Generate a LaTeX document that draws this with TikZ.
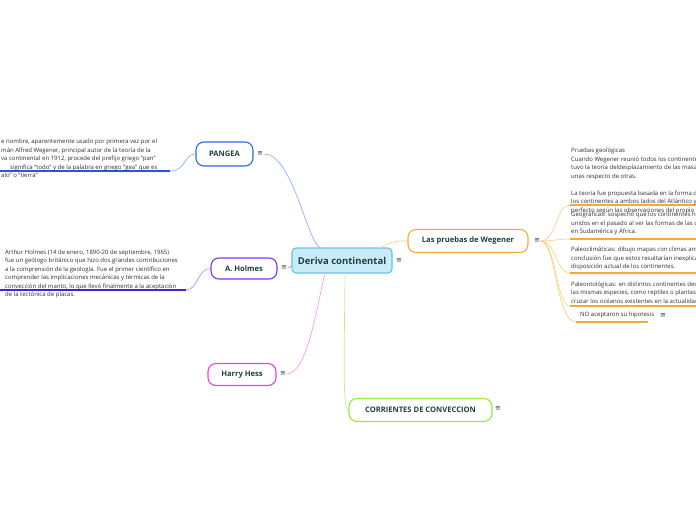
\documentclass[tikz,border=0pt]{standalone}
\usepackage{fontspec}
\setmainfont{Open Sans}
\newfontfamily\dejavu{DejaVu Sans}
\definecolor{txt}{HTML}{1C4240}
\definecolor{note}{HTML}{2E2E2E}
\definecolor{cfill}{HTML}{C8ECFB}
\definecolor{cborder}{HTML}{62C3EC}
\definecolor{cblue}{HTML}{2F66F5}
\definecolor{lblue}{HTML}{94ADFF}
\definecolor{dblue}{HTML}{2A52E8}
\definecolor{cpurple}{HTML}{7C35F2}
\definecolor{lpurple}{HTML}{B894FF}
\definecolor{dpurple}{HTML}{4B1FD6}
\definecolor{cmagenta}{HTML}{EE3DF2}
\definecolor{lpink}{HTML}{F49AF5}
\definecolor{cgreen}{HTML}{93EE3C}
\definecolor{lgreen}{HTML}{C0F28C}
\definecolor{corange}{HTML}{F8A838}
\definecolor{lorange}{HTML}{FFD08A}
\begin{document}
\begin{tikzpicture}[x=1pt,y=-1pt,
  topic/.style={draw, rounded corners=8pt, line width=1.1pt, fill=white, text=txt,
    font=\bfseries\fontsize{7.6}{9}\selectfont, inner sep=0pt},
  icon/.style={text=txt, font=\dejavu\fontsize{7}{7}\selectfont, inner sep=0.5pt},
  notetext/.style={text=note, align=left, inner sep=0pt, anchor=north west,
    font=\fontsize{6}{8.5}\selectfont},
  conn/.style={line width=0.7pt},
  uline/.style={line width=1.3pt}]
\useasboundingbox (0,0) rectangle (696,520);

% central
\node[draw=cborder, fill=cfill, rounded corners=4pt, line width=1.1pt, text=txt,
  font=\bfseries\fontsize{9.5}{11}\selectfont, minimum width=100pt, minimum height=25pt,
  inner sep=0pt] (central) at (342,260.5) {Deriva continental};
\node[icon] (ic0) at (399,261) {≡};

% topics
\node[topic, draw=cblue, minimum width=57pt, minimum height=24pt] (pangea) at (224.5,154) {PANGEA};
\node[icon] (ic1) at (260,154) {≡};
\node[topic, draw=cpurple, minimum width=66pt, minimum height=21pt] (holmes) at (244,268.5) {A. Holmes};
\node[icon] (ic2) at (284,268) {≡};
\node[topic, draw=cmagenta, minimum width=68pt, minimum height=22pt] (hess) at (242,374.5) {Harry Hess};
\node[icon] (ic3) at (283,374) {≡};
\node[topic, draw=cgreen, minimum width=143pt, minimum height=23pt] (corr) at (420.5,410) {CORRIENTES DE CONVECCION};
\node[icon] (ic4) at (498,409) {≡};
\node[topic, draw=corange, minimum width=120pt, minimum height=23pt] (weg) at (468,241) {Las pruebas de Wegener};
\node[icon] (ic5) at (537,241) {≡};

% connection points on central
\coordinate (c1) at (320,248);
\coordinate (c2) at (292,266);
\coordinate (c3) at (325,273);
\coordinate (c4) at (345,273);
\coordinate (c5) at (380,248);

\draw[conn, lblue] (ic1.east) .. controls (292,153) and (306,238) .. (c1);
\draw[conn, lpurple] (ic2.east) .. controls (290,268) and (290,266) .. (c2);
\draw[conn, lpink] (ic3.east) .. controls (308,374) and (318,300) .. (c3);
\draw[conn, lgreen] (c4) .. controls (344,375) and (343,410) .. (corr.west);
\draw[conn, lorange] (c5) .. controls (392,241) and (396,241) .. (weg.west);

% PANGEA note
\coordinate (pu) at (170,171);
\coordinate (pe) at (0,171);
\draw[conn, lblue] (pangea.west) .. controls (184,154) and (186,171) .. (pu);
\draw[uline, dblue] (pu) -- (pe);
\node[notetext] (pnote) at (1,139) {e nombre, aparentemente usado por primera vez por el\\
mán Alfred Wegener, principal autor de la teoría de la\\
va continental en 1912, procede del prefijo griego "pan"\\
\hspace*{9pt}significa "todo" y de la palabra en griego "gea" que es\\
alo" o "tierra"};

% Holmes note
\coordinate (hu) at (186,290);
\coordinate (he) at (0,290);
\draw[conn, lpurple] (holmes.west) .. controls (198,268) and (198,290) .. (hu);
\draw[uline, dpurple] (hu) -- (he);
\node[notetext] (hnote) at (5,249.5) {Arthur Holmes (14 de enero, 1890-20 de septiembre, 1965)\\
fue un geólogo británico que hizo dos grandes contribuciones\\
a la comprensión de la geología. Fue el primer científico en\\
comprender las implicaciones mecánicas y térmicas de la\\
convección del manto, lo que llevó finalmente a la aceptación\\
de la tectónica de placas.};

% Wegener notes
\coordinate (w1) at (570,205);
\coordinate (w2) at (570,239);
\coordinate (w3) at (570,273);
\coordinate (w4) at (570,306);
\coordinate (w5) at (576,322);
\coordinate (e1) at (696,205);
\coordinate (e2) at (696,239);
\coordinate (e3) at (696,273);
\coordinate (e4) at (696,306);
\coordinate (e5) at (648,322);
\foreach \w/\y in {w1/205,w2/239,w3/273,w4/306,w5/322}{
  \draw[conn, lorange] (ic5.east) .. controls (556,241) and (556,\y) .. (\w);
}
\draw[uline, corange] (w1) -- (e1);
\draw[uline, corange] (w2) -- (e2);
\draw[uline, corange] (w3) -- (e3);
\draw[uline, corange] (w4) -- (e4);
\draw[uline, corange] (w5) -- (e5);

\node[notetext] (wn1) at (571,148) {Pruebas geológicas\\
Cuando Wegener reunió todos los continentes\\
tuvo la teoría deldesplazamiento de las masas\\
unas respecto de otras.\\[8.5pt]
La teoría fue propuesta basada en la forma de\\
los continentes a ambos lados del Atlántico y\\
perfecto según las observaciones del propio};
\node[notetext] (wn2) at (571,212) {Geográficas: sospechó que los continentes h\\
unidos en el pasado al ver las formas de las c\\
en Sudamérica y África.};
\node[notetext] (wn3) at (571,247) {Paleoclimáticas: dibujo mapas con climas ant\\
conclusión fue que estos resultarían inexplica\\
disposición actual de los continentes.};
\node[notetext] (wn4) at (571,281.5) {Paleontológicas: en distintos continentes des\\
las mismas especies, como reptiles o plantas\\
cruzar los océanos existentes en la actualidad};
\node[notetext] (wn5) at (580,312) {NO aceptaron su hipotesis};
\node[icon] (ic6) at (663,316) {≡};
\end{tikzpicture}
\end{document}
